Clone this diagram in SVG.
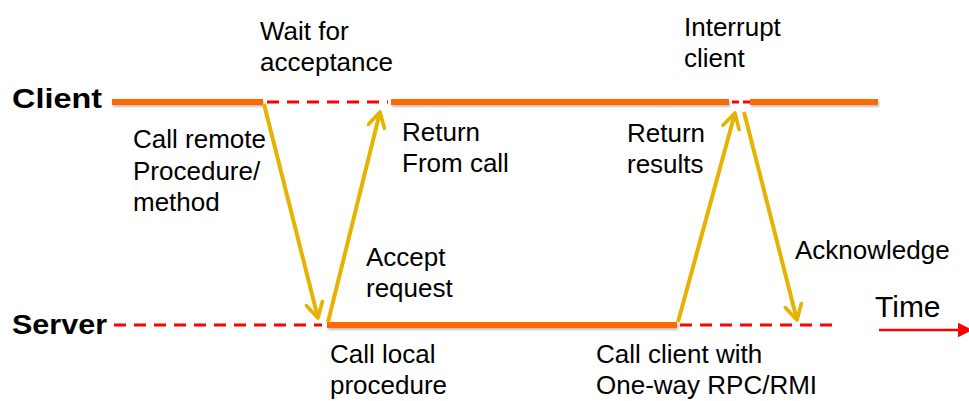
<svg xmlns="http://www.w3.org/2000/svg" width="969" height="401" viewBox="0 0 969 401">
  <defs>
    <marker id="vhead" viewBox="0 0 12 12" refX="10" refY="6" markerWidth="5" markerHeight="5" orient="auto" markerUnits="strokeWidth">
      <path d="M1,1 L10,6 L1,11" fill="none" stroke="#E5B300" stroke-width="2.2" stroke-linecap="round" stroke-linejoin="round"/>
    </marker>
    <marker id="timehead" viewBox="0 0 10 10" refX="9" refY="5" markerWidth="6" markerHeight="6" orient="auto" markerUnits="strokeWidth">
      <path d="M0,0 L10,5 L0,10 z" fill="#FF0000"/>
    </marker>
    <filter id="soft" filterUnits="userSpaceOnUse" x="0" y="0" width="969" height="401">
      <feDropShadow dx="1" dy="2" stdDeviation="1.2" flood-color="#000" flood-opacity="0.25"/>
    </filter>
  </defs>
  <style>
    .active { stroke: #FF6A00; stroke-width: 6; fill: none; filter: url(#soft); }
    .idle { stroke: #FF0000; stroke-width: 2.8; stroke-dasharray: 12 8; fill: none; }
    .msg { stroke: #E5B300; stroke-width: 4; fill: none; marker-end: url(#vhead); }
    .axis { font-family: "Liberation Sans", Arial, sans-serif; font-weight: bold; font-size: 28px; fill: #000; }
    .lbl { font-family: "Liberation Sans", Arial, sans-serif; font-size: 26px; fill: #000; }
  </style>
  <rect width="969" height="401" fill="#FFFFFF"/>

  <g id="client">
    <text class="axis" x="12" y="108" textLength="90" lengthAdjust="spacingAndGlyphs">Client</text>
    <line class="active" x1="112" y1="102" x2="263" y2="102"/>
    <line class="idle" x1="267" y1="102" x2="388" y2="102"/>
    <line class="active" x1="391" y1="102" x2="729" y2="102"/>
    <line class="idle" x1="732" y1="102" x2="750" y2="102" style="stroke-dasharray:7 4"/>
    <line class="active" x1="750" y1="102" x2="878" y2="102"/>
  </g>

  <g id="server">
    <text class="axis" x="12" y="334" textLength="95" lengthAdjust="spacingAndGlyphs">Server</text>
    <line class="idle" x1="114" y1="325" x2="322" y2="325"/>
    <line class="active" x1="327" y1="325" x2="677" y2="325"/>
    <line class="idle" x1="680" y1="325" x2="840" y2="325"/>
  </g>

  <g id="time-axis">
    <text class="lbl" x="875" y="317" style="font-size:30px">Time</text>
    <line x1="879" y1="330" x2="971" y2="330" stroke="#FF0000" stroke-width="2.5" marker-end="url(#timehead)"/>
  </g>

  <g id="connectors">
    <line class="msg" x1="264" y1="104" x2="318" y2="318"/>
    <line class="msg" x1="328" y1="322" x2="380" y2="112"/>
    <line class="msg" x1="678" y1="322" x2="735" y2="113"/>
    <line class="msg" x1="744" y1="112" x2="797" y2="320"/>
  </g>

  <g id="labels">
    <text class="lbl" x="260" y="40">Wait for</text>
    <text class="lbl" x="260" y="71">acceptance</text>
    <text class="lbl" x="684" y="36">Interrupt</text>
    <text class="lbl" x="684" y="67">client</text>
    <text class="lbl" x="133" y="148">Call remote</text>
    <text class="lbl" x="133" y="180">Procedure/</text>
    <text class="lbl" x="133" y="211">method</text>
    <text class="lbl" x="402" y="141">Return</text>
    <text class="lbl" x="402" y="172">From call</text>
    <text class="lbl" x="627" y="142">Return</text>
    <text class="lbl" x="627" y="173">results</text>
    <text class="lbl" x="366" y="266">Accept</text>
    <text class="lbl" x="366" y="297">request</text>
    <text class="lbl" x="795" y="259">Acknowledge</text>
    <text class="lbl" x="330" y="363">Call local</text>
    <text class="lbl" x="330" y="394">procedure</text>
    <text class="lbl" x="596" y="363">Call client with</text>
    <text class="lbl" x="596" y="394">One-way RPC/RMI</text>
  </g>
</svg>
